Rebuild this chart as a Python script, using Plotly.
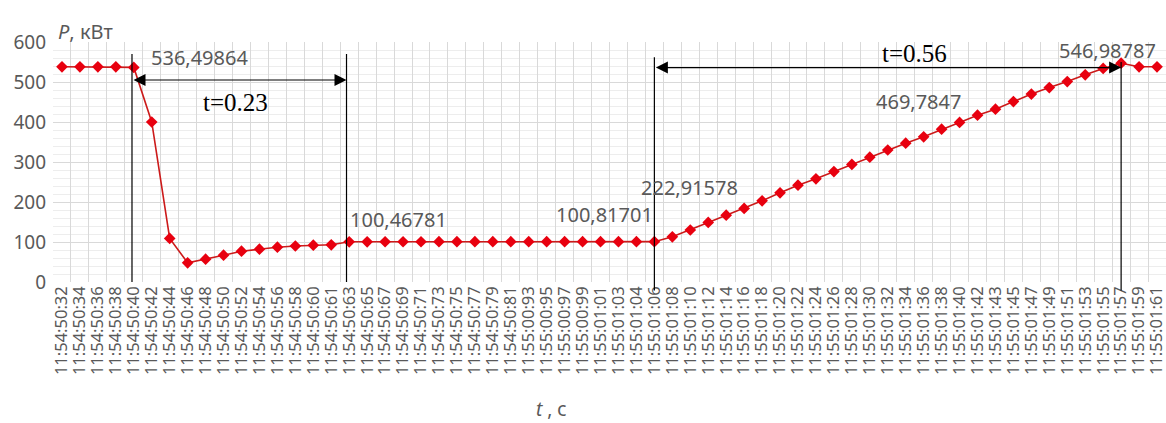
import plotly.graph_objects as go

# Time stamps of the samples (category axis)
time_labels = [
    "11:54:50:32", "11:54:50:34", "11:54:50:36", "11:54:50:38", "11:54:50:40",
    "11:54:50:42", "11:54:50:44", "11:54:50:46", "11:54:50:48", "11:54:50:50",
    "11:54:50:52", "11:54:50:54", "11:54:50:56", "11:54:50:58", "11:54:50:60",
    "11:54:50:61", "11:54:50:63", "11:54:50:65", "11:54:50:67", "11:54:50:69",
    "11:54:50:71", "11:54:50:73", "11:54:50:75", "11:54:50:77", "11:54:50:79",
    "11:54:50:81", "11:55:00:93", "11:55:00:95", "11:55:00:97", "11:55:00:99",
    "11:55:01:01", "11:55:01:03", "11:55:01:04", "11:55:01:06", "11:55:01:08",
    "11:55:01:10", "11:55:01:12", "11:55:01:14", "11:55:01:16", "11:55:01:18",
    "11:55:01:20", "11:55:01:22", "11:55:01:24", "11:55:01:26", "11:55:01:28",
    "11:55:01:30", "11:55:01:32", "11:55:01:34", "11:55:01:36", "11:55:01:38",
    "11:55:01:40", "11:55:01:42", "11:55:01:43", "11:55:01:45", "11:55:01:47",
    "11:55:01:49", "11:55:01:51", "11:55:01:53", "11:55:01:55", "11:55:01:57",
    "11:55:01:59", "11:55:01:61",
]

# Active power, kW
power_kw = [
    538, 538, 538, 538, 536.49864,
    400, 109, 48, 57, 67,
    77, 82, 87, 90, 92,
    93, 100.46781, 100.5, 100.6, 100.6,
    100.6, 100.7, 100.7, 100.7, 100.7,
    100.7, 100.8, 100.8, 100.8, 100.8,
    100.8, 100.8, 100.8, 100.81701, 113,
    130, 149, 167, 184, 203,
    222.91578, 242, 258, 276, 294,
    312, 330, 347, 363, 382,
    399, 417, 432, 451, 469.7847,
    486, 501, 518, 534, 546.98787,
    538, 538,
]

# Indices of the samples whose values are written on the chart,
# with the label centre offset (in category steps, kW)
labelled_points = [4, 16, 33, 40, 54, 59]
label_offsets = [(3.68, 24), (2.75, 57), (-2.8, 69), (-5.05, 14), (-6.3, -18), (-0.74, 33)]

# Transient intervals: (start index, end index, caption)
intervals = [(3.9, 15.85, "t=0.23"), (33, 59, "t=0.56")]

GRAY = "#595959"
GRID = "#d9d9d9"
GRID_MINOR = "#ededed"

fig = go.Figure()
fig.add_trace(go.Scatter(
    x=time_labels,
    y=power_kw,
    mode="lines+markers",
    line=dict(color="#cc1a1a", width=1.6),
    marker=dict(symbol="diamond", size=9, color="#e8000f"),
    showlegend=False,
))

# Value labels
for idx, (dx, dy) in zip(labelled_points, label_offsets):
    fig.add_annotation(
        x=idx + dx, y=power_kw[idx] + dy, xref="x", yref="y",
        text=str(power_kw[idx]).replace(".", ","),
        showarrow=False, xanchor="center", yanchor="middle",
        font=dict(family="Noto Sans", size=20, color=GRAY),
    )

# Interval markers: vertical boundary lines and double-headed arrows
line_tops = [570, 570, 562, 550]
line_bottoms = [0.0, 0.0, -0.035, -0.035]
bounds = [intervals[0][0], intervals[0][1], intervals[1][0], intervals[1][1]]
for xb, top, bot in zip(bounds, line_tops, line_bottoms):
    fig.add_shape(
        type="line", xref="x", yref="paper",
        x0=xb, x1=xb, y0=bot, y1=top / 600,
        line=dict(color="black", width=1.2), layer="above",
    )

arrow_levels = [505, 536]
caption_pos = [(9.68, 450), (47.47, 572)]
for (x0, x1, caption), ylev, (cx, cy) in zip(intervals, arrow_levels, caption_pos):
    fig.add_annotation(
        x=x1, y=ylev, ax=x0, ay=ylev, xref="x", yref="y", axref="x", ayref="y",
        text="", showarrow=True, arrowside="end+start",
        arrowhead=2, startarrowhead=2, arrowsize=2, startarrowsize=2,
        arrowwidth=1.2, arrowcolor="black", standoff=0, startstandoff=0,
    )
    fig.add_annotation(
        x=cx, y=cy, xref="x", yref="y", text=caption, showarrow=False,
        xanchor="center", yanchor="middle",
        font=dict(family="Liberation Serif", size=25, color="black"),
    )

# Axis captions
fig.add_annotation(
    x=0.003, y=1, xref="paper", yref="paper", yshift=11,
    text="<i>P</i>, кВт", showarrow=False, xanchor="left", yanchor="middle",
    font=dict(family="Noto Sans", size=20, color=GRAY),
)
fig.add_annotation(
    x=0.448, y=0, xref="paper", yref="paper", yshift=-127,
    text="<i>t</i> , с", showarrow=False, xanchor="center", yanchor="middle",
    font=dict(family="Noto Sans", size=19, color=GRAY),
)

fig.update_xaxes(
    type="category",
    range=[-0.5, len(time_labels) - 0.5],
    tickmode="array",
    tickvals=time_labels,
    ticktext=time_labels,
    tickson="boundaries",
    tickangle=-90,
    ticks="",
    tickfont=dict(family="Noto Sans", size=16.5, color=GRAY),
    showgrid=True, gridcolor=GRID, gridwidth=1.2,
    showline=False, zeroline=False,
)
fig.update_yaxes(
    range=[0, 600],
    dtick=100,
    ticklabelstandoff=6,
    tickfont=dict(family="Noto Sans", size=19, color=GRAY),
    showgrid=True, gridcolor=GRID, gridwidth=1.2,
    minor=dict(dtick=20, showgrid=True, gridcolor=GRID_MINOR, gridwidth=1),
    showline=False, zeroline=False,
)

fig.update_layout(
    width=1166, height=423,
    margin=dict(l=53, r=0, t=42, b=141),
    paper_bgcolor="white", plot_bgcolor="white",
    font=dict(family="Noto Sans", color=GRAY),
)

fig.write_html("out.html")
